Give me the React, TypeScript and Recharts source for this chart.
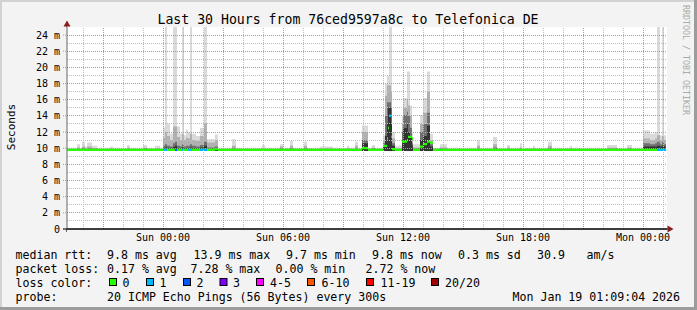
import React from 'react';
import { ComposedChart, Area, XAxis, YAxis, ReferenceLine, CartesianGrid } from 'recharts';

// time in hours relative to Sun 00:00
const HOURS = [
  -4.8, -4.3, -4.15, -4.05, -3.9, -3.8, -3.55, -3.3,
  -2.65, -2.5, -1.8, -1.65, -1.0, -0.8, -0.4, -0.15,
  0, 0.1, 0.2, 0.35, 0.5, 0.6, 0.7, 0.85,
  0.95, 1.05, 1.15, 1.25, 1.35, 1.45, 1.65, 1.85,
  2.05, 2.2, 2.6, 2.75, 3.45, 3.65, 4.95, 5.1,
  5.85, 6.0, 6.35, 6.5, 7.05, 7.2, 7.85, 8.5,
  9.2, 9.3, 9.6, 9.75, 9.95, 10.25, 10.45, 10.6,
  11.0, 11.1, 11.2, 11.25, 11.3, 11.4, 11.45, 11.6,
  11.95, 12.0, 12.2, 12.25, 12.35, 12.45, 12.5, 12.85,
  13.0, 13.2, 13.35, 13.5, 13.85, 14.2, 15.7, 15.85,
  16.5, 16.7, 17.2, 17.35, 17.85, 17.95, 18.5, 18.6,
  19.25, 19.45, 20.35, 20.45, 22.2, 22.7, 23.2, 23.45,
  24.0, 24.35, 24.6, 24.7, 24.85, 24.95, 25.05, 25.15,
];

// smoke levels in ms (max ping, upper, middle, lower quantile tops)
const SMOKE_MAX = [
  10.05, 10.5, 10.05, 10.8, 10.2, 10.7, 10.3, 10.05,
  10.2, 10.05, 10.4, 10.05, 10.4, 10.05, 10.3, 10.05,
  12.6, 25, 13.0, 11.8, 25, 25, 12.7, 11.8,
  25, 11.6, 12.3, 12.0, 25, 11.8, 11.5, 12.5,
  25, 11.1, 11.7, 10.05, 11.1, 10.05, 10.35, 10.05,
  10.5, 10.05, 10.9, 10.05, 10.8, 10.05, 10.2, 10.05,
  10.3, 10.05, 10.8, 10.05, 12.8, 10.05, 10.4, 10.05,
  11.6, 18.0, 19.0, 19.0, 25, 25, 12.0, 10.3,
  14.0, 16.2, 19.5, 19.5, 15.3, 12.0, 10.5, 14.1,
  16.2, 19.5, 11.8, 10.05, 10.5, 10.05, 11.0, 10.05,
  11.4, 10.05, 10.4, 10.05, 10.6, 10.05, 10.3, 10.05,
  10.8, 10.05, 10.3, 10.05, 10.4, 10.05, 10.4, 10.05,
  12.2, 11.8, 12.0, 25, 11.6, 25, 11.6, 11.6,
];
const SMOKE_UPPER = [
  9.9, 10.1, 9.9, 10.2, 9.95, 10.2, 10.0, 9.9,
  9.95, 9.9, 10.05, 9.9, 10.05, 9.9, 10.0, 9.9,
  11.3, 12.0, 11.5, 11.0, 12.7, 12.7, 11.4, 11.0,
  11.8, 11.0, 11.3, 11.2, 11.8, 11.0, 10.9, 11.5,
  13.1, 10.7, 11.0, 9.9, 10.3, 9.9, 10.0, 9.9,
  10.2, 9.9, 10.3, 9.9, 10.3, 9.9, 10.0, 9.9,
  10.0, 9.9, 10.3, 9.9, 12.0, 9.9, 10.05, 9.9,
  11.0, 16.5, 17.8, 17.8, 17.8, 17.0, 11.2, 10.0,
  13.0, 15.0, 16.0, 15.3, 14.0, 11.2, 10.1, 13.0,
  14.4, 17.0, 11.0, 9.9, 10.1, 9.9, 10.3, 9.9,
  10.5, 9.9, 10.05, 9.9, 10.1, 9.9, 10.0, 9.9,
  10.3, 9.9, 10.0, 9.9, 10.05, 9.9, 10.05, 9.9,
  11.2, 11.0, 11.2, 11.6, 11.0, 11.5, 11.0, 11.0,
];
const SMOKE_MIDDLE = [
  9.88, 9.95, 9.88, 10.0, 9.9, 10.0, 9.95, 9.88,
  9.9, 9.88, 9.95, 9.88, 9.95, 9.88, 9.9, 9.88,
  10.3, 10.5, 10.3, 10.2, 10.6, 10.8, 10.3, 10.2,
  10.5, 10.2, 10.3, 10.3, 10.5, 10.3, 10.2, 10.4,
  10.8, 10.1, 10.2, 9.88, 10.0, 9.88, 9.9, 9.88,
  10.0, 9.88, 10.0, 9.88, 10.0, 9.88, 9.9, 9.88,
  9.9, 9.88, 10.0, 9.88, 11.0, 9.88, 9.95, 9.88,
  10.6, 14.0, 15.7, 15.7, 15.7, 15.0, 10.6, 9.9,
  12.0, 14.1, 14.5, 14.0, 12.5, 10.6, 9.95, 12.0,
  13.0, 14.4, 10.5, 9.88, 9.95, 9.88, 10.0, 9.88,
  10.1, 9.88, 9.95, 9.88, 9.95, 9.88, 9.9, 9.88,
  10.0, 9.88, 9.9, 9.88, 9.95, 9.88, 9.95, 9.88,
  10.6, 10.5, 10.6, 10.8, 10.5, 10.8, 10.5, 10.5,
];
const SMOKE_LOWER = [
  9.85, 9.88, 9.85, 9.9, 9.85, 9.9, 9.88, 9.85,
  9.85, 9.85, 9.88, 9.85, 9.88, 9.85, 9.88, 9.85,
  10.0, 10.1, 10.0, 9.95, 10.15, 10.3, 10.0, 9.95,
  10.1, 9.95, 10.0, 10.0, 10.1, 10.0, 9.95, 10.1,
  10.3, 9.9, 9.95, 9.85, 9.9, 9.85, 9.88, 9.85,
  9.9, 9.85, 9.9, 9.85, 9.9, 9.85, 9.88, 9.85,
  9.88, 9.85, 9.9, 9.85, 10.6, 9.85, 9.88, 9.85,
  10.3, 11.5, 13.0, 15.0, 15.0, 13.0, 10.3, 9.88,
  11.0, 12.5, 13.0, 12.0, 11.5, 10.3, 9.88, 11.0,
  11.5, 12.8, 10.2, 9.85, 9.88, 9.85, 9.9, 9.85,
  9.9, 9.85, 9.88, 9.85, 9.88, 9.85, 9.88, 9.85,
  9.9, 9.85, 9.88, 9.85, 9.88, 9.85, 9.88, 9.85,
  10.2, 10.2, 10.2, 10.3, 10.2, 10.3, 10.2, 10.2,
];
const SMOKE_FLOOR = 9.65;

const MEDIAN = [
  9.8, 9.8, 9.8, 9.8, 9.8, 9.8, 9.8, 9.8,
  9.8, 9.8, 9.8, 9.8, 9.8, 9.8, 9.8, 9.8,
  9.8, 9.8, 9.8, 9.8, 9.8, 9.8, 9.8, 9.8,
  9.8, 9.8, 9.8, 9.8, 9.8, 9.8, 9.8, 9.8,
  9.8, 9.8, 9.9, 9.8, 9.8, 9.8, 9.8, 9.8,
  9.8, 9.8, 9.8, 9.8, 9.8, 9.8, 9.8, 9.8,
  9.8, 9.8, 9.8, 9.8, 10.0, 9.8, 9.8, 9.8,
  10.3, 10.3, 11.2, 12.5, 14.0, 11.4, 9.9, 9.8,
  10.8, 10.8, 11.0, 11.4, 11.4, 11.2, 9.8, 10.2,
  10.5, 10.8, 10.7, 9.8, 9.8, 9.8, 9.8, 9.8,
  9.8, 9.8, 9.8, 9.8, 9.8, 9.8, 9.8, 9.8,
  9.8, 9.8, 9.8, 9.8, 9.8, 9.8, 9.8, 9.8,
  9.8, 9.8, 9.8, 9.8, 9.8, 9.8, 9.8, 9.8,
];
// lost packets (of 20) per sample
const LOSS = [
  0, 0, 0, 0, 0, 0, 0, 0,
  0, 0, 0, 0, 0, 0, 0, 0,
  1, 1, 0, 0, 0, 2, 0, 0,
  1, 0, 0, 1, 1, 0, 0, 1,
  1, 0, 0, 0, 0, 0, 0, 0,
  0, 0, 0, 0, 0, 0, 0, 0,
  0, 0, 0, 0, 0, 0, 0, 0,
  0, 0, 0, 0, 1, 1, 0, 0,
  0, 0, 0, 0, 0, 0, 0, 0,
  0, 0, 0, 0, 0, 0, 0, 0,
  0, 0, 0, 0, 0, 0, 0, 0,
  0, 0, 0, 0, 0, 0, 0, 0,
  0, 0, 0, 1, 0, 1, 1, 1,
];

const X_TICKS = [0, 6, 12, 18, 24];
const X_TICK_LABELS = ['Sun 00:00', 'Sun 06:00', 'Sun 12:00', 'Sun 18:00', 'Mon 00:00'];
const Y_TICKS = [0, 2, 4, 6, 8, 10, 12, 14, 16, 18, 20, 22, 24];
const Y_MINOR = [1, 3, 5, 7, 9, 11, 13, 15, 17, 19, 21, 23];
const X_MAJOR = [-3, 0, 3, 6, 9, 12, 15, 18, 21, 24];
const X_MINOR = [-4, -2, -1, 1, 2, 4, 5, 7, 8, 10, 11, 13, 14, 16, 17, 19, 20, 22, 23, 25];

const LOSS_LABELS = ['0', '1', '2', '3', '4-5', '6-10', '11-19', '20/20'];
const LOSS_COLORS = ['#26ff00', '#00b8ff', '#0059ff', '#7e00ff', '#ff00ff', '#ff5500', '#ff0000', '#a10000'];
const LOSS_BOX_X = [109, 146, 183, 219.5, 256, 307, 366, 431];
const LOSS_TEXT_X = [122.5, 159.5, 196.5, 233, 270, 321.5, 380.5, 445];

const MED_HALF = 0.14;
const band = (v: number) => [v - MED_HALF, v + MED_HALF];

const rows = HOURS.map((t, i) => {
  const lossBand = (lvl: number) =>
    LOSS[i] === lvl ? band(MEDIAN[i]) : i > 0 && LOSS[i - 1] === lvl ? band(MEDIAN[i - 1]) : null;
  return {
    t,
    light: [SMOKE_FLOOR, SMOKE_MAX[i]],
    upper: [SMOKE_FLOOR, SMOKE_UPPER[i]],
    middle: [SMOKE_FLOOR, SMOKE_MIDDLE[i]],
    lower: [SMOKE_FLOOR, SMOKE_LOWER[i]],
    med: band(MEDIAN[i]),
    loss1: lossBand(1),
    loss2: lossBand(2),
  };
});

const FONT = '"DejaVu Sans Mono", monospace';
const MAJOR = '#e88484';
const MINOR = '#bdbdbd';

const LEG = 11.6;

export default function App() {
  return (
    <div style={{ position: 'absolute', left: 0, top: 0, width: 697, height: 310, background: '#f3f3f3', overflow: 'hidden' }}>
      <div style={{ position: 'absolute', left: 0, top: 0 }}>
        <ComposedChart width={697} height={310} data={rows} margin={{ top: 27, right: 30, bottom: 61, left: 0 }}>
          <CartesianGrid horizontal={false} vertical={false} fill="#ffffff" />
          <XAxis
            type="number"
            dataKey="t"
            domain={[-4.8, 25.2]}
            allowDataOverflow
            ticks={X_TICKS}
            interval={0}
            tickFormatter={(v: number) => X_TICK_LABELS[X_TICKS.indexOf(v)]}
            height={20}
            tickSize={4}
            tickMargin={1}
            tickLine={false}
            axisLine={{ stroke: '#000', strokeWidth: 1 }}
            tick={{ fill: '#000', fontSize: 10, fontFamily: FONT }}
          />
          <YAxis
            type="number"
            domain={[0, 25]}
            allowDataOverflow
            ticks={Y_TICKS}
            interval={0}
            width={67}
            tickSize={4}
            tickMargin={3}
            tickFormatter={(v: number) => (v === 0 ? '0' : `${v} m`)}
            tickLine={{ stroke: MAJOR, strokeDasharray: '1 1' }}
            axisLine={{ stroke: '#666', strokeWidth: 1 }}
            tick={{ fill: '#000', fontSize: 10, fontFamily: FONT }}
          />
          <Area dataKey="light" type="stepAfter" stroke="none" fill="#dadada" fillOpacity={1} isAnimationActive={false} dot={false} activeDot={false} />
          <Area dataKey="upper" type="stepAfter" stroke="none" fill="#b0b0b0" fillOpacity={1} isAnimationActive={false} dot={false} activeDot={false} />
          <Area dataKey="middle" type="stepAfter" stroke="none" fill="#707070" fillOpacity={1} isAnimationActive={false} dot={false} activeDot={false} />
          <Area dataKey="lower" type="stepAfter" stroke="none" fill="#333333" fillOpacity={1} isAnimationActive={false} dot={false} activeDot={false} />
          {Y_MINOR.map((v) => (
            <ReferenceLine key={`ym${v}`} y={v} stroke={MINOR} strokeDasharray="1 1" shapeRendering="crispEdges" />
          ))}
          {X_MINOR.map((v) => (
            <ReferenceLine key={`xm${v}`} x={v} stroke={MINOR} strokeDasharray="1 1" shapeRendering="crispEdges" />
          ))}
          {Y_TICKS.filter((v) => v > 0).map((v) => (
            <ReferenceLine key={`yM${v}`} y={v} stroke={MAJOR} strokeDasharray="1 1" shapeRendering="crispEdges" />
          ))}
          {X_MAJOR.map((v) => (
            <ReferenceLine key={`xM${v}`} x={v} stroke={MAJOR} strokeDasharray="1 1" shapeRendering="crispEdges" />
          ))}
          <Area dataKey="med" type="stepAfter" stroke="none" fill="#26ff00" fillOpacity={1} isAnimationActive={false} dot={false} activeDot={false} />
          <Area dataKey="loss1" type="stepAfter" stroke="none" fill="#00b8ff" fillOpacity={1} isAnimationActive={false} dot={false} activeDot={false} />
          <Area dataKey="loss2" type="stepAfter" stroke="none" fill="#0059ff" fillOpacity={1} isAnimationActive={false} dot={false} activeDot={false} />
        </ComposedChart>
      </div>
      <svg width={697} height={310} style={{ position: 'absolute', left: 0, top: 0, pointerEvents: 'none' }}>
        {/* frame */}
        <rect x={0} y={0} width={697} height={2} fill="#d2d2d2" />
        <rect x={0} y={0} width={2} height={310} fill="#d2d2d2" />
        <rect x={694} y={0} width={3} height={310} fill="#9c9c9c" />
        <rect x={0} y={307} width={697} height={3} fill="#9c9c9c" />
        {/* axis extensions and arrows */}
        <line x1={66.5} y1={22} x2={66.5} y2={27} stroke="#666" />
        <line x1={66.5} y1={229} x2={66.5} y2={232} stroke="#666" />
        <line x1={63} y1={229} x2={668} y2={229} stroke="#000" />
        <polygon points="67,20.5 63.5,26.5 70.5,26.5" fill="#8b1d1d" />
        <polygon points="673.5,229 667.5,225.5 667.5,232.5" fill="#8b1d1d" />
        {/* title */}
        <text x={348} y={24} textAnchor="middle" fontFamily={FONT} fontSize={13.2} fill="#000">
          Last 30 Hours from 76ced9597a8c to Telefonica DE
        </text>
        <text transform="translate(14.5,127) rotate(-90)" textAnchor="middle" fontFamily={FONT} fontSize={11} fill="#000">
          Seconds
        </text>
        <text transform="translate(683,5) rotate(90)" textAnchor="start" fontFamily={FONT} fontSize={8.3} fill="#aaaaaa">
          RRDTOOL / TOBI OETIKER
        </text>
        {/* legend */}
        <g fontFamily={FONT} fontSize={LEG} fill="#000">
          <text x={15.5} y={259}>median rtt:</text>
          <text x={107} y={259}>9.8 ms avg</text>
          <text x={193.5} y={259}>13.9 ms max</text>
          <text x={286} y={259}>9.7 ms min</text>
          <text x={372} y={259}>9.8 ms now</text>
          <text x={458} y={259}>0.3 ms sd</text>
          <text x={537} y={259}>30.9</text>
          <text x={586.5} y={259}>am/s</text>

          <text x={15.5} y={272.8}>packet loss:</text>
          <text x={107} y={272.8}>0.17 % avg</text>
          <text x={190.5} y={272.8}>7.28 % max</text>
          <text x={275.5} y={272.8}>0.00 % min</text>
          <text x={365.5} y={272.8}>2.72 % now</text>

          <text x={15.5} y={286.7}>loss color:</text>
          {LOSS_LABELS.map((lab, i) => (
            <g key={lab}>
              <rect x={LOSS_BOX_X[i] + 0.5} y={278.5} width={7} height={7} fill={LOSS_COLORS[i]} stroke="#000" strokeWidth={1} />
              <text x={LOSS_TEXT_X[i]} y={286.7}>{lab}</text>
            </g>
          ))}

          <text x={15.5} y={300.5}>probe:</text>
          <text x={107} y={300.5}>20 ICMP Echo Pings (56 Bytes) every 300s</text>
          <text x={512.5} y={300.5}>Mon Jan 19 01:09:04 2026</text>
        </g>
      </svg>
    </div>
  );
}
